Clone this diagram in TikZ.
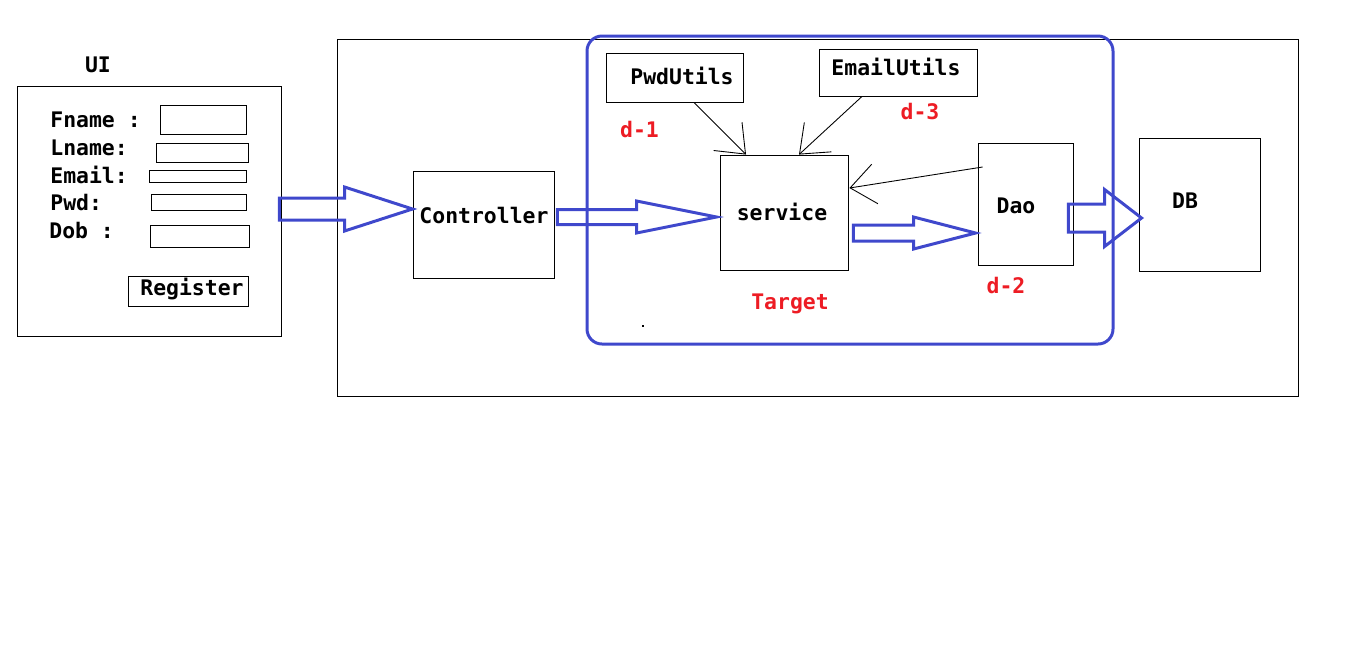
\documentclass[tikz,border=0pt]{standalone}
\usepackage{fontspec}
\setmonofont{DejaVu Sans Mono}
\usetikzlibrary{calc,arrows.meta}
\definecolor{paintblue}{HTML}{3F48CC}
\definecolor{paintred}{HTML}{ED1C24}

\begin{document}
\begin{tikzpicture}[x=0.02cm, y=-0.02cm,
	box/.style 2 args={draw, line width=0.5pt, minimum width=#1*0.02cm, minimum height=#2*0.02cm, inner sep=0pt},
	txt/.style={font=\ttfamily\bfseries\fontsize{12.2}{14}\selectfont, inner sep=0pt, anchor=base},
	lbl/.style={txt, anchor=base west},
	tag/.style={txt, text=paintred},
	thin/.style={line width=0.5pt, -{Straight Barb[length=0.5cm, width=0.8cm]}},
	hollow/.style n args={3}{draw=paintblue, line width=1.7pt, to path={($(\tikztostart)+(0,-#1)$) -- ($(\tikztotarget)+(-#3,-#1)$) -- ($(\tikztotarget)+(-#3,-#2)$) -- (\tikztotarget) -- ($(\tikztotarget)+(-#3,#2)$) -- ($(\tikztotarget)+(-#3,#1)$) -- ($(\tikztostart)+(0,#1)$) -- cycle}}]
				\useasboundingbox (0, 0) rectangle (1359, 654);
				\draw[line width=0.5pt] (337, 39) rectangle (1298, 396);
				\draw[paintblue, line width=1.7pt, rounded corners=0.3cm] (587, 36) rectangle (1113, 344);
				\node[box={264}{250}] (U)at(149, 211) {};
				\node[box={141}{107}] (C)at(483.5, 224.5) {};
				\node[box={128}{115}] (S)at(784, 212.5) {};
				\node[box={137}{49}] (P)at(674.5, 77.5) {};
				\node[box={158}{47}] (E)at(898, 72.5) {};
				\node[box={95}{122}] (D)at(1025.5, 204) {};
				\node[box={121}{133}] (B)at(1199.5, 204.5) {};
				\node[txt] (ui)at(98, 72) {UI};
				\node[lbl] (fn)at(50, 127) {Fname :};
				\node[lbl] (ln)at(50, 155) {Lname:};
				\node[lbl] (em)at(50, 183) {Email:};
				\node[lbl] (pw)at(50, 210) {Pwd:};
				\node[lbl] (db)at(49, 238) {Dob :};
				\draw[line width=0.5pt] (160, 105) rectangle (246, 134);
				\draw[line width=0.5pt] (156, 143) rectangle (248, 162);
				\draw[line width=0.5pt] (149, 170) rectangle (246, 182);
				\draw[line width=0.5pt] (151, 194) rectangle (246, 210);
				\draw[line width=0.5pt] (150, 225) rectangle (249, 247);
				\draw[line width=0.5pt] (128, 276) rectangle (248, 306);
				\node[txt] (reg)at(192, 295) {Register};
				\node[txt] (ctl)at(484, 223) {Controller};
				\node[txt] (srv)at(782, 220) {service};
				\node[txt] (pwd)at(682, 84) {PwdUtils};
				\node[txt] (eml)at(896, 75) {EmailUtils};
				\node[txt] (dao)at(1016, 213) {Dao};
				\node[txt] (dbs)at(1185, 208) {DB};
				\node[tag] (d1)at(639.5, 137) {d-1};
				\node[tag] (d3)at(920, 119) {d-3};
				\node[tag] (d2)at(1006, 293) {d-2};
				\node[tag] (tg)at(790, 309) {Target};
				\fill (642, 325) rectangle (644, 327);
				\draw[hollow={11}{22}{68}] ($(U.east)+(-2,-2)$) to ($(C.west)+(0,-15.5)$);
				\draw[hollow={7.5}{16}{80}] ($(C.east)+(3,-7.5)$) to ($(S.west)+(-3,4.5)$);
				\draw[hollow={8}{16}{62}] ($(S.east)+(5,20.5)$) to ($(D.west)+(-2,29)$);
				\draw[hollow={14}{28.5}{37}] ($(D.east)+(-5,14)$) to ($(B.west)+(3,13.5)$);
				\draw[thin] ($(P.south)+(19.5,0)$) -- ($(S.north)+(-38,0)$);
				\draw[thin] ($(E.south)+(-36,0)$) -- ($(S.north)+(15,0)$);
				\draw[thin] ($(D.west)+(5,-37)$) -- ($(S.east)+(1,-24.5)$);
			\end{tikzpicture}
\end{document}
